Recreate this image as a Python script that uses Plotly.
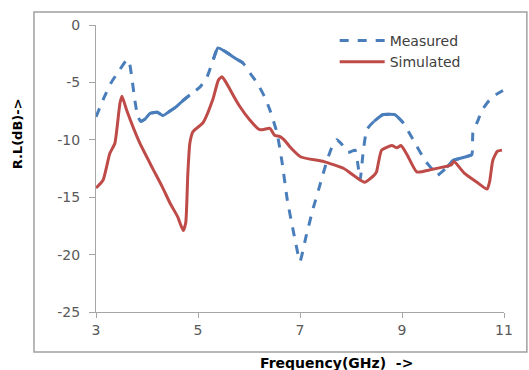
import plotly.graph_objects as go

meas_x = [3.0, 3.15, 3.3, 3.45, 3.61, 3.66, 3.7, 3.76, 3.82, 3.88, 3.96, 4.06, 4.2, 4.31, 4.45, 4.55, 4.7, 4.84, 5.04, 5.18, 5.3, 5.39, 5.53, 5.73, 5.88, 6.02, 6.16, 6.3, 6.41, 6.55, 6.65, 6.75, 6.88, 7.0, 7.12, 7.25, 7.4, 7.53, 7.62, 7.72, 7.82, 7.94, 8.08, 8.13, 8.18, 8.24, 8.31, 8.45, 8.63, 8.86, 9.02, 9.22, 9.45, 9.6, 9.69, 9.88, 10.0, 10.24, 10.37, 10.39, 10.5, 10.57, 10.76, 10.98]
meas_y = [-8.0, -6.4, -5.0, -4.0, -3.0, -3.4, -4.5, -6.5, -8.0, -8.4, -8.2, -7.7, -7.6, -7.9, -7.5, -7.2, -6.6, -6.1, -5.4, -4.5, -3.0, -2.0, -2.3, -2.9, -3.3, -4.2, -5.05, -6.2, -7.4, -9.4, -12.0, -15.2, -18.2, -20.6, -18.4, -16.1, -13.8, -11.8, -10.7, -10.0, -10.4, -11.1, -10.9, -12.0, -13.5, -11.0, -9.1, -8.4, -7.8, -7.8, -8.5, -10.0, -11.8, -12.6, -13.1, -12.4, -11.8, -11.5, -11.3, -9.4, -8.2, -7.4, -6.3, -5.7]

# x-ranges where the measured dashed line renders as a continuous stroke in the source
meas_solid_ranges = [(3.88, 4.95), (5.3, 5.88), (8.45, 9.05), (9.88, 10.37)]

sim_x = [3.0, 3.14, 3.27, 3.37, 3.47, 3.51, 3.6, 3.86, 4.1, 4.3, 4.45, 4.6, 4.71, 4.76, 4.8, 4.84, 4.9, 5.1, 5.29, 5.4, 5.47, 5.55, 5.7, 5.82, 6.02, 6.2, 6.29, 6.41, 6.5, 6.6, 6.69, 6.8, 7.02, 7.47, 7.86, 8.08, 8.27, 8.45, 8.5, 8.6, 8.8, 8.9, 8.98, 9.1, 9.29, 9.57, 9.96, 10.02, 10.22, 10.47, 10.67, 10.72, 10.78, 10.87, 10.96]
sim_y = [-14.2, -13.5, -11.2, -10.3, -6.8, -6.2, -7.4, -10.3, -12.4, -14.1, -15.5, -16.7, -17.9, -17.2, -13.0, -10.3, -9.3, -8.5, -6.5, -4.8, -4.5, -5.0, -6.2, -7.1, -8.3, -9.1, -9.1, -9.0, -9.6, -9.7, -10.0, -10.6, -11.5, -11.9, -12.5, -13.2, -13.7, -13.1, -12.8, -10.9, -10.5, -10.7, -10.5, -11.3, -12.8, -12.6, -12.2, -11.9, -12.9, -13.7, -14.3, -13.6, -11.8, -11.0, -10.9]

x_ticks = [3, 5, 7, 9, 11]
y_ticks = [0, -5, -10, -15, -20, -25]

BLUE = "#4a7ebb"
RED = "#be4b48"

solid_y = [y if any(a <= x <= b for a, b in meas_solid_ranges) else None
           for x, y in zip(meas_x, meas_y)]

fig = go.Figure()
fig.add_trace(go.Scatter(x=meas_x, y=meas_y, mode="lines", name="Measured",
                         line=dict(color=BLUE, width=3, dash="dash", shape="spline", smoothing=0.4)))
fig.add_trace(go.Scatter(x=meas_x, y=solid_y, mode="lines", showlegend=False, hoverinfo="skip",
                         connectgaps=False,
                         line=dict(color=BLUE, width=3, shape="spline", smoothing=0.4)))
fig.add_trace(go.Scatter(x=sim_x, y=sim_y, mode="lines", name="Simulated",
                         line=dict(color=RED, width=3, shape="spline", smoothing=0.5)))

axis_font = dict(family="DejaVu Sans, sans-serif", size=14, color="#595959")
fig.update_layout(
    width=529, height=370,
    margin=dict(l=96, r=25, t=25, b=58),
    paper_bgcolor="white", plot_bgcolor="white",
    showlegend=True,
    legend=dict(x=0.585, y=1.0, xanchor="left", yanchor="top",
                font=dict(family="DejaVu Sans, sans-serif", size=14, color="#404040"),
                bgcolor="rgba(0,0,0,0)", tracegroupgap=0, itemwidth=45),
    xaxis=dict(range=[3, 11], tickvals=x_ticks, ticktext=[str(v) for v in x_ticks],
               showgrid=False, zeroline=False, showline=True, linecolor="#a6a6a6", linewidth=1,
               ticks="outside", ticklen=5, tickcolor="#a6a6a6", tickfont=axis_font),
    yaxis=dict(range=[-25, 0], tickvals=y_ticks, ticktext=[str(v) for v in y_ticks],
               showgrid=False, zeroline=False, showline=True, linecolor="#a6a6a6", linewidth=1,
               ticks="outside", ticklen=6, tickcolor="#a6a6a6", tickfont=axis_font, ticklabelstandoff=6),
    shapes=[dict(type="rect", xref="paper", yref="paper", x0=-0.152, x1=1.056, y0=-0.139, y1=1.045,
                 line=dict(color="#a0a0a0", width=1.5), fillcolor="rgba(0,0,0,0)", layer="below")],
    annotations=[
        dict(text="<b>R.L(dB)-></b>", xref="paper", yref="paper", x=-0.193, y=0.62,
             textangle=-90, showarrow=False, xanchor="center", yanchor="middle",
             font=dict(family="DejaVu Sans, sans-serif", size=13, color="black")),
        dict(text="<b>Frequency(GHz)  -></b>", xref="paper", yref="paper", x=0.59, y=-0.178,
             showarrow=False, xanchor="center", yanchor="middle",
             font=dict(family="DejaVu Sans, sans-serif", size=14, color="black")),
    ],
)

fig.write_html("out.html")
